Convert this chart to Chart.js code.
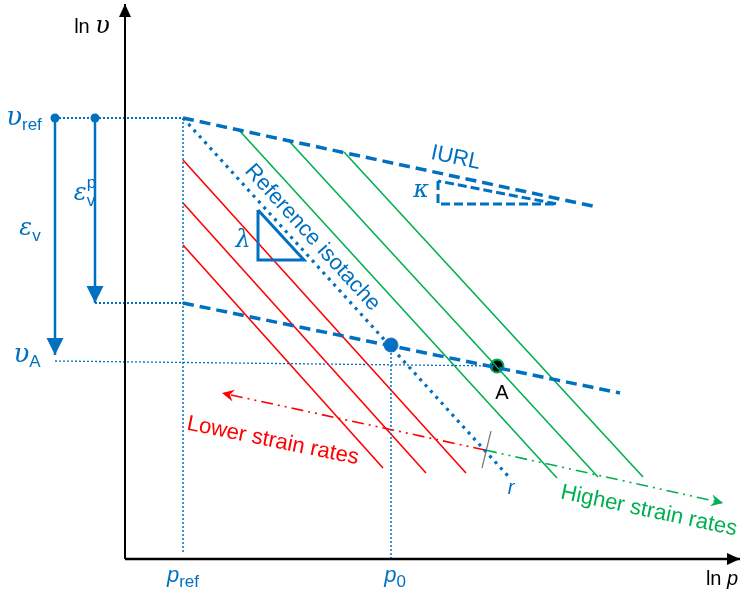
<!DOCTYPE html>
<html>
<head>
<meta charset="utf-8">
<script src="https://cdn.jsdelivr.net/npm/chart.js@4/dist/chart.umd.min.js"></script>
<style>
  body { margin: 0; background: #fff; }
  canvas { display: block; }
</style>
</head>
<body>
<canvas id="isotacheCanvas" width="741" height="591"></canvas>
<script>
// schematic units: x = ln p, y = ln v, origin where the axes cross
const xAxisLine = [[0, 0], [61.5, 0]];
const yAxisLine = [[0, 0], [0, 55.5]];

const vRefGuide = [[-7, 44.1], [5.8, 44.1]];
const vAGuide = [[-7, 19.8], [37.2, 19.3]];
const epsPlasticGuide = [[-3, 25.6], [5.8, 25.6]];
const pRefGuide = [[5.8, 44.1], [5.8, 0.6]];
const p0Guide = [[26.6, 21.4], [26.6, 0]];

const epsTotalArrow = [[-7, 44.1], [-7, 20.4]];
const epsPlasticArrow = [[-3, 44.1], [-3, 25.6]];

const iurlLine = [[5.8, 44.1], [47.2, 35.2]];
const currentLine = [[5.8, 25.6], [49.5, 16.6]];
const refIsotache = [[5.8, 44.1], [38.3, 8.3]];

const redIsotaches = [
    [[5.8, 39.9], [34.1, 8.6]],
    [[5.8, 35.6], [30.1, 8.6]],
    [[5.8, 31.4], [25.8, 9.1]]
];
const greenIsotaches = [
    [[11.3, 43.0], [43.2, 8.1]],
    [[16.4, 41.8], [47.3, 8.2]],
    [[21.9, 40.7], [51.8, 8.2]]
];

const kappaTriangle = [[31.3, 37.8], [31.3, 35.5], [43.2, 35.5], [31.3, 37.8]];
const lambdaTriangle = [[13.3, 34.9], [13.3, 29.9], [17.9, 29.9], [13.3, 34.9]];

const lowerRateArrow = [[36.0, 10.9], [9.7, 16.6]];
const higherRateArrow = [[36.0, 10.9], [59.8, 5.6]];
const rateTick = [[36.6, 12.8], [35.7, 9.1]];

const markerPoints = [[-7, 44.1], [-3, 44.1], [26.6, 21.4], [37.2, 19.3]];

const blue = "#0070C0";
const red = "#FF0000";
const green = "#00B050";

const sans = '"Liberation Sans", Arial, sans-serif';
const serif = '"DejaVu Serif", "Liberation Serif", serif';

// label positions (centre) and rotation in degrees
const labels = [
    { at: [-3.3, 53.3], color: "#000", parts: [{ t: "ln ", f: "20px " + sans }, { t: "υ", f: "italic 24px " + serif }] },
    { at: [-10.1, 44.1], color: blue, parts: [{ t: "υ", f: "italic 26px " + serif }, { t: "ref", f: "17px " + sans, dy: 5 }] },
    { at: [-9.5, 33.1], color: blue, parts: [{ t: "ε", f: "italic 24px " + serif }, { t: "v", f: "17px " + sans, dy: 6 }] },
    { at: [-4.0, 36.6], color: blue, parts: [{ t: "ε", f: "italic 24px " + serif }, { t: "v", f: "17px " + sans, dy: 6 }, { t: "p", f: "17px " + sans, dy: -12, overlay: true }] },
    { at: [-9.8, 20.4], color: blue, parts: [{ t: "υ", f: "italic 26px " + serif }, { t: "A", f: "17px " + sans, dy: 5 }] },
    { at: [5.8, -1.6], color: blue, parts: [{ t: "p", f: "italic 22px " + sans }, { t: "ref", f: "17px " + sans, dy: 5 }] },
    { at: [27.0, -1.6], color: blue, parts: [{ t: "p", f: "italic 22px " + sans }, { t: "0", f: "17px " + sans, dy: 5 }] },
    { at: [59.7, -1.9], color: "#000", parts: [{ t: "ln ", f: "20px " + sans }, { t: "p", f: "italic 20px " + sans }] },
    { at: [29.6, 36.9], color: blue, parts: [{ t: "κ", f: "italic 24px " + serif }] },
    { at: [11.8, 31.9], color: blue, parts: [{ t: "λ", f: "italic 24px " + serif }] },
    { at: [33.1, 40.2], angle: 12, color: blue, parts: [{ t: "IURL", f: "22px " + sans }] },
    { at: [18.8, 32.2], angle: 47.7, color: blue, parts: [{ t: "Reference isotache", f: "22px " + sans }] },
    { at: [14.8, 11.9], angle: 11.5, color: red, parts: [{ t: "Lower strain rates", f: "22px " + sans }] },
    { at: [52.4, 4.9], angle: 12, color: green, parts: [{ t: "Higher strain rates", f: "22px " + sans }] },
    { at: [37.7, 16.7], color: "#000", parts: [{ t: "A", f: "20px " + sans }] },
    { at: [38.6, 7.2], color: blue, parts: [{ t: "r", f: "italic 20px " + sans }] }
];

function pts(arr) {
    return arr.map(function (p) { return { x: p[0], y: p[1] }; });
}

function lineSet(arr, color, width, dash, arrow) {
    return {
        data: pts(arr),
        showLine: true,
        borderColor: color,
        borderWidth: width,
        borderDash: dash || [],
        borderCapStyle: "butt",
        pointRadius: 0,
        fill: false,
        clip: false,
        arrow: arrow || null
    };
}

const datasets = [
    lineSet(xAxisLine, "#000", 2.5, null, { len: 13, half: 6, color: "#000" }),
    lineSet(yAxisLine, "#000", 2, null, { len: 13, half: 6, color: "#000" }),
    lineSet(vRefGuide, blue, 2, [2, 2]),
    lineSet(vAGuide, blue, 1.3, [2, 2]),
    lineSet(epsPlasticGuide, blue, 2, [2, 2]),
    lineSet(pRefGuide, blue, 1.5, [2, 2]),
    lineSet(p0Guide, blue, 1.5, [2, 2]),
    lineSet(epsTotalArrow, blue, 2.5, null, { len: 17, half: 8.5, color: blue }),
    lineSet(epsPlasticArrow, blue, 2.5, null, { len: 17, half: 8.5, color: blue }),
    lineSet(iurlLine, blue, 3.5, [11, 6]),
    lineSet(currentLine, blue, 3.5, [11, 6]),
    lineSet(kappaTriangle, blue, 3, [9, 4]),
    lineSet(lambdaTriangle, blue, 3),
    lineSet(refIsotache, blue, 3.2, [3, 5])
];
redIsotaches.forEach(function (l) { datasets.push(lineSet(l, red, 1.6)); });
greenIsotaches.forEach(function (l) { datasets.push(lineSet(l, green, 1.6)); });
datasets.push(lineSet(lowerRateArrow, red, 1.6, [12, 5, 2, 5, 2, 5], { len: 12, half: 6, color: red, notch: 4 }));
datasets.push(lineSet(higherRateArrow, green, 1.6, [12, 5, 2, 5, 2, 5], { len: 12, half: 6, color: green, notch: 4 }));
datasets.push(lineSet(rateTick, "#777", 1.2));
datasets.push({
    data: pts(markerPoints),
    showLine: false,
    pointRadius: [4.5, 4.5, 7, 6.5],
    pointBackgroundColor: [blue, blue, blue, "#000"],
    pointBorderColor: [blue, blue, "#2f6fc0", green],
    pointBorderWidth: [0, 0, 1, 2],
    clip: false
});

const arrowPlugin = {
    id: "arrowHeads",
    afterDatasetsDraw: function (chart) {
        const ctx = chart.ctx;
        chart.data.datasets.forEach(function (ds, i) {
            if (!ds.arrow) return;
            const el = chart.getDatasetMeta(i).data;
            const tip = el[el.length - 1];
            const prev = el[el.length - 2];
            const a = Math.atan2(tip.y - prev.y, tip.x - prev.x);
            const h = ds.arrow;
            ctx.save();
            ctx.translate(tip.x, tip.y);
            ctx.rotate(a);
            ctx.fillStyle = h.color;
            ctx.beginPath();
            ctx.moveTo(0, 0);
            ctx.lineTo(-h.len, -h.half);
            ctx.lineTo(-h.len + (h.notch || 0), 0);
            ctx.lineTo(-h.len, h.half);
            ctx.closePath();
            ctx.fill();
            ctx.restore();
        });
    }
};

const labelPlugin = {
    id: "labels",
    afterDraw: function (chart) {
        const ctx = chart.ctx;
        const xs = chart.scales.x, ys = chart.scales.y;
        labels.forEach(function (lb) {
            const px = xs.getPixelForValue(lb.at[0]);
            const py = ys.getPixelForValue(lb.at[1]);
            // measure
            let width = 0, cursor = 0, lastStart = 0;
            const placed = lb.parts.map(function (p) {
                ctx.font = p.f;
                const w = ctx.measureText(p.t).width;
                const start = p.overlay ? lastStart : cursor;
                if (!p.overlay) { lastStart = cursor; cursor += w; }
                width = Math.max(width, start + w);
                return { p: p, x: start };
            });
            ctx.save();
            ctx.translate(px, py);
            ctx.rotate((lb.angle || 0) * Math.PI / 180);
            ctx.fillStyle = lb.color;
            ctx.textBaseline = "alphabetic";
            ctx.textAlign = "left";
            placed.forEach(function (q) {
                ctx.font = q.p.f;
                ctx.fillText(q.p.t, q.x - width / 2, 7 + (q.p.dy || 0));
            });
            ctx.restore();
        });
    }
};

new Chart(document.getElementById("isotacheCanvas"), {
    type: "scatter",
    data: { datasets: datasets },
    options: {
        responsive: false,
        animation: false,
        devicePixelRatio: 1,
        events: [],
        layout: { padding: 0, autoPadding: false },
        plugins: { legend: { display: false }, tooltip: { enabled: false } },
        scales: {
            x: { type: "linear", min: -12.5, max: 61.6, display: false },
            y: { type: "linear", min: -3.2, max: 55.9, display: false }
        }
    },
    plugins: [arrowPlugin, labelPlugin]
});
</script>
</body>
</html>
